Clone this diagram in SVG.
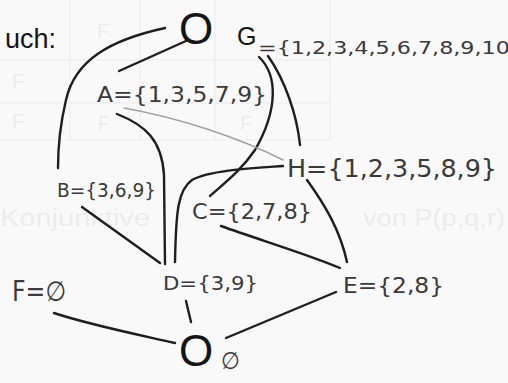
<svg xmlns="http://www.w3.org/2000/svg" width="508" height="383" viewBox="0 0 508 383">
<style>
.ghost{font-family:"Liberation Sans",Arial,sans-serif;fill:#ececec}
.grid{stroke:#efefef;stroke-width:1.5;fill:none}
.print{font-family:"Liberation Sans",Arial,sans-serif;fill:#151515}
.hand{font-family:"DejaVu Sans Condensed","DejaVu Sans",sans-serif;fill:#3a3a3a}
.edge{fill:none;stroke:#1e1e1e;stroke-width:2.4;stroke-linecap:round}
.faint{fill:none;stroke:#a0a0a0;stroke-width:1.5;stroke-linecap:round}
</style>
<rect width="508" height="383" fill="#f9f9f9"/>
<g id="background">
<path class="grid" d="M0,60 H330 M0,103 H330 M0,140 H330 M70,0 V140 M140,0 V140 M215,0 V140 M330,0 V140"/>
<text class="ghost" x="97" y="38" font-size="20">F</text>
<text class="ghost" x="12" y="88" font-size="20">F</text>
<text class="ghost" x="12" y="128" font-size="20">F</text>
<text class="ghost" x="98" y="130" font-size="20">F</text>
<text class="ghost" x="240" y="130" font-size="20">F</text>
<text class="ghost" x="0" y="226" font-size="23" textLength="150" lengthAdjust="spacingAndGlyphs">Konjunktive</text>
<text class="ghost" x="363" y="226" font-size="23" textLength="142" lengthAdjust="spacingAndGlyphs">von P(p,q,r)</text>
<text class="print" x="56" y="48" font-size="27" text-anchor="end">uch:</text>
</g>
<g id="connectors">
<path class="edge" d="M165,28 C110,40 75,60 66,100 C60,125 58,145 58,168"/>
<path class="edge" d="M186,41 L119,71"/>
<path class="edge" d="M259,57 C278,75 278,110 255,150 C240,172 222,185 210,196"/>
<path class="edge" d="M268,56 C285,80 297,115 300,145"/>
<path class="faint" d="M124,108 C180,118 240,138 283,160"/>
<path class="edge" d="M117,114 C145,125 162,140 164,175 L165,264"/>
<path class="edge" d="M283,166 C255,168 210,170 192,180 C178,190 176,210 175,262"/>
<path class="edge" d="M221,226 C260,240 310,255 340,268"/>
<path class="edge" d="M307,180 C325,205 340,230 347,262"/>
<path class="edge" d="M82,207 L160,263"/>
<path class="edge" d="M186,301 L191,322"/>
<path class="edge" d="M54,313 C90,325 140,335 175,343"/>
<path class="edge" d="M336,292 L226,338"/>
</g>
<g id="node-top">
<text class="print" x="179" y="44" font-size="44">O</text>
<text class="print" x="237" y="45" font-size="25">G</text>
<text class="hand" x="258" y="54" font-size="17" textLength="266" lengthAdjust="spacingAndGlyphs">={1,2,3,4,5,6,7,8,9,10}</text>
</g>
<g id="node-A"><text class="hand" x="97" y="102" font-size="21" textLength="170" lengthAdjust="spacingAndGlyphs">A={1,3,5,7,9}</text></g>
<g id="node-B"><text class="hand" x="57" y="197" font-size="20" textLength="99" lengthAdjust="spacingAndGlyphs">B={3,6,9}</text></g>
<g id="node-H"><text class="hand" x="287" y="177" font-size="24" textLength="210" lengthAdjust="spacingAndGlyphs">H={1,2,3,5,8,9}</text></g>
<g id="node-C"><text class="hand" x="192" y="219" font-size="22" textLength="120" lengthAdjust="spacingAndGlyphs">C={2,7,8}</text></g>
<g id="node-D"><text class="hand" x="163" y="290" font-size="20" textLength="95" lengthAdjust="spacingAndGlyphs">D={3,9}</text></g>
<g id="node-E"><text class="hand" x="343" y="293" font-size="21" textLength="101" lengthAdjust="spacingAndGlyphs">E={2,8}</text></g>
<g id="node-F"><text class="hand" x="12" y="301" font-size="28" textLength="54" lengthAdjust="spacingAndGlyphs">F=∅</text></g>
<g id="node-bottom">
<text class="print" x="179" y="366" font-size="44">O</text>
<text class="hand" x="221" y="369" font-size="24">∅</text>
</g>
</svg>
